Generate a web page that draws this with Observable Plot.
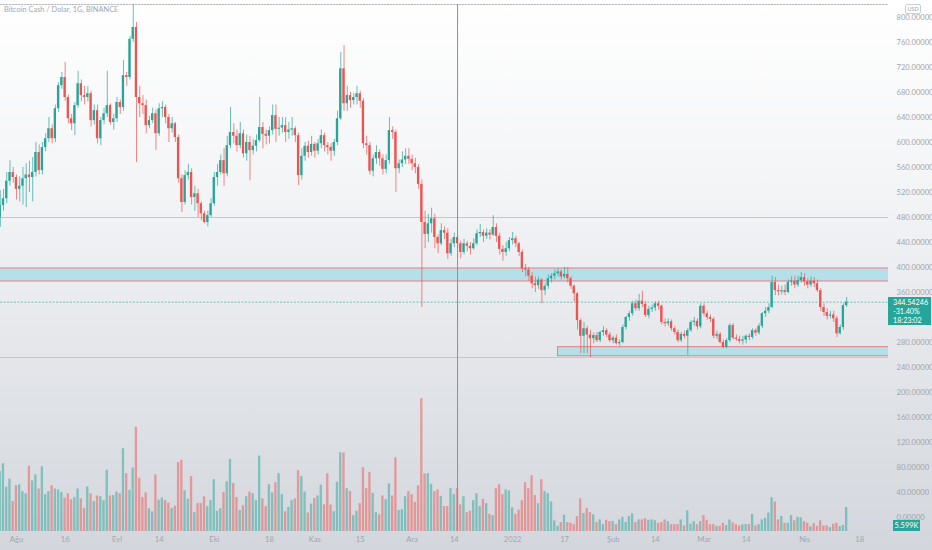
<!DOCTYPE html>
<html><head><meta charset="utf-8">
<script src="https://cdn.jsdelivr.net/npm/d3@7"></script>
<script src="https://cdn.jsdelivr.net/npm/@observablehq/plot@0.6"></script>
<style>
html,body{margin:0;padding:0;}
body{width:932px;height:550px;overflow:hidden;background:linear-gradient(#ffffff 0%,#f3f4f6 35%,#dcdfe4 80%,#d3d6dc 100%);font-family:Lato,"Noto Sans",sans-serif;}
#wrap{position:relative;width:932px;height:550px;}
#wrap svg{position:absolute;left:0;top:0;}
.ov{position:absolute;}
</style></head>
<body><div id="wrap"></div>
<script>
// ---- data (Bitcoin Cash / Dolar, daily, from 2021-07-27) ----
const firstDay = "2021-07-27";
const open = [480,499,510,538,552,544,525,530,542,548,
544,552,584,555,592,606,622,606,654,691,
704,672,638,630,659,694,675,672,678,635,
651,606,635,646,659,632,638,664,656,707,
704,765,784,672,662,659,627,635,646,614,
654,656,640,622,630,608,542,504,547,552,
512,518,502,486,472,483,502,544,552,571,
550,595,616,610,595,614,582,600,587,594,
603,624,613,610,619,643,621,623,627,616,
620,622,611,547,578,594,584,597,586,598,
611,595,592,586,600,638,718,662,675,667,
672,678,666,598,595,554,574,584,574,557,
571,619,616,558,566,572,578,573,566,560,
533,472,453,470,478,448,438,459,455,422,
438,448,438,424,438,434,430,438,454,456,
450,455,452,464,450,429,424,430,443,446,
438,424,398,396,386,374,371,380,363,370,
382,386,390,393,385,389,382,370,358,315,
290,302,292,286,291,283,296,299,292,283,
287,278,280,304,320,326,342,334,346,341,
323,333,335,342,338,312,310,313,302,296,
283,293,290,299,312,314,305,338,326,320,
317,290,293,280,272,283,307,287,285,282,
284,290,288,299,295,306,326,330,336,376,
363,361,363,360,376,378,372,379,384,377,
372,378,374,363,336,328,322,324,318,294,
304,339];
const high = [523,525,552,571,560,548,545,560,566,570,
576,600,596,600,614,640,628,660,696,712,
728,676,645,664,714,700,690,690,682,660,
660,640,655,714,662,645,672,668,731,712,
770,840,792,690,675,668,642,655,652,662,
665,660,645,640,632,612,548,555,565,558,
530,525,505,490,490,510,552,565,580,590,
610,656,630,620,632,620,612,610,605,612,
672,632,620,625,660,660,640,640,640,632,
640,625,615,590,600,602,610,600,605,620,
615,600,598,605,650,744,755,690,680,678,
690,682,670,610,600,580,595,588,580,580,
640,625,620,572,585,590,590,580,575,565,
540,490,485,495,485,452,470,465,462,445,
455,452,442,445,442,440,446,460,469,460,
462,460,483,470,455,435,440,448,456,450,
440,428,405,400,392,385,385,382,375,388,
390,396,398,396,400,400,385,372,360,318,
312,306,300,295,296,298,305,302,296,290,
292,284,308,322,330,346,348,357,362,345,
338,340,345,346,340,318,318,316,306,300,
296,298,302,315,320,318,342,342,330,324,
320,298,296,284,286,310,310,292,290,290,
292,294,302,302,310,328,336,342,386,384,
372,370,372,380,385,386,386,392,390,382,
385,384,380,366,342,334,330,330,322,308,
342,352];
const low = [464,490,502,530,535,508,505,500,496,520,
505,545,548,548,585,600,598,600,648,685,
666,630,619,611,655,665,660,665,625,628,
598,595,628,640,628,620,632,645,650,690,
700,760,568,640,645,614,622,630,587,610,
640,630,600,615,600,535,488,500,540,500,
490,480,475,470,465,480,498,530,548,530,
545,590,598,585,590,575,570,539,580,585,
600,590,596,598,612,600,610,615,600,605,
610,600,531,540,570,575,578,575,580,590,
585,580,570,578,595,635,650,650,655,660,
660,655,590,580,548,545,565,562,548,550,
565,605,520,550,560,565,565,555,550,525,
336,430,440,455,430,422,435,445,413,418,
432,430,414,420,425,420,428,435,448,440,
445,444,450,440,420,410,418,425,436,432,
418,392,385,378,366,360,365,342,355,365,
375,380,385,380,382,375,365,345,300,262,
262,262,256,278,280,280,290,288,280,278,
276,274,278,300,314,322,330,330,336,320,
318,328,330,332,308,305,306,298,292,280,
280,286,259,296,306,300,302,322,316,312,
286,285,278,270,270,280,284,282,278,276,
278,283,285,290,292,302,320,326,334,355,
355,356,355,358,370,366,368,375,370,366,
368,368,360,330,322,316,318,312,288,292,
300,336];
const close = [499,510,538,552,544,525,530,542,548,544,
552,584,555,592,606,622,606,654,691,704,
672,638,630,659,694,675,672,678,635,651,
606,635,646,659,632,638,664,656,707,704,
765,784,672,662,659,627,635,646,614,654,
656,640,622,630,608,542,504,547,552,512,
518,502,486,472,483,502,544,552,571,550,
595,616,610,595,614,582,600,587,594,603,
624,613,610,619,643,621,623,627,616,620,
622,611,547,578,594,584,597,586,598,611,
595,592,586,600,638,718,662,675,667,672,
678,666,598,595,554,574,584,574,557,571,
619,616,558,566,572,578,573,566,560,533,
472,453,470,478,448,438,459,455,422,438,
448,438,424,438,434,430,438,454,456,450,
455,452,464,450,429,424,430,443,446,438,
424,398,396,386,374,371,380,363,370,382,
386,390,393,385,389,382,370,358,315,290,
302,292,286,291,283,296,299,292,283,287,
278,280,304,320,326,342,334,346,341,323,
333,335,342,338,312,310,313,302,296,283,
293,290,299,312,314,305,338,326,320,317,
290,293,280,272,283,307,287,285,282,284,
290,288,299,295,306,326,330,336,376,363,
361,363,360,376,378,372,379,384,377,372,
378,374,363,336,328,322,324,318,294,304,
339,344.54246];
// volume in thousands
const volume = [14.0,15.8,10.3,12.2,7.0,10.7,10.9,9.3,8.8,15.2,
11.8,13.2,9.9,15.1,8.6,9.3,10.7,9.9,9.7,9.1,
7.8,8.8,7.4,7.9,9.9,7.6,5.4,10.4,8.8,7.0,
8.3,8.1,7.2,14.3,8.3,8.4,9.2,8.8,19.3,13.5,
9.6,14.8,24.3,12.4,7.9,9.0,5.3,4.6,13.2,7.3,
7.8,7.2,6.6,5.4,5.9,16.1,16.6,9.5,7.5,12.8,
4.4,6.5,6.5,8.1,5.8,7.2,12.1,4.7,5.3,9.1,
11.6,16.8,11.2,7.9,4.9,6.0,8.1,9.2,8.8,7.2,
17.6,7.6,5.8,10.9,9.0,11.4,13.5,8.6,4.6,5.6,
7.2,7.6,14.2,12.8,9.2,4.3,6.4,7.7,8.3,10.8,
6.2,13.5,6.2,4.6,11.5,18.4,18.3,10.0,9.3,3.7,
4.7,6.5,14.9,10.0,13.8,8.9,4.4,3.9,8.3,7.4,
11.1,8.3,17.2,4.9,5.1,8.1,9.3,8.6,6.8,10.7,
31.0,13.4,13.5,11.0,9.3,9.7,8.2,5.8,5.8,10.0,
8.6,10.0,6.2,8.1,4.4,4.7,7.2,8.8,5.8,7.5,
6.5,4.0,3.7,10.0,10.9,8.6,9.7,9.5,5.5,4.0,
5.0,7.2,11.4,10.0,13.0,8.4,6.5,12.1,9.3,8.8,
6.9,2.5,1.2,2.1,3.8,2.1,1.9,1.6,3.5,7.6,
4.2,5.4,4.4,3.9,2.1,2.7,1.6,2.6,2.3,2.3,
1.6,2.7,3.3,2.1,3.5,4.1,2.1,2.7,2.7,3.0,
2.6,2.7,2.5,1.9,2.1,2.7,2.3,1.6,1.6,1.6,
2.7,1.3,4.8,1.7,2.3,1.6,2.3,3.7,2.6,1.6,
1.6,1.2,1.2,1.9,1.4,2.7,2.0,1.6,1.3,1.6,
1.6,1.6,4.0,1.3,1.6,2.7,3.1,4.3,7.9,6.9,
2.7,3.5,1.9,1.9,3.7,2.5,3.3,3.2,2.3,1.9,
1.1,1.8,1.2,2.5,1.3,1.3,0.9,1.7,1.9,1.1,
1.4,5.599];
// 320 is hidden behind the last-price label in the reference
const priceTicks = [0,40,80,120,160,200,240,280,360,400,440,480,520,560,600,640,680,720,760,800];
const timeTickDates = ["2021-08-01","2021-08-16","2021-09-01","2021-09-14","2021-10-01","2021-10-18","2021-11-01","2021-11-15","2021-12-01","2021-12-14","2022-01-01","2022-01-17","2022-02-01","2022-02-14","2022-03-01","2022-03-14","2022-04-01","2022-04-18"];
const timeTickLabels = ["Ağu","16","Eyl","14","Eki","18","Kas","15","Ara","14","2022","17","Şub","14","Mar","14","Nis","18"];
const levelLines = [480, 256];
const zones = [
  {start:"2021-06-01", end:"2022-06-30", lo:377.6, hi:398.4},
  {start:"2022-01-15", end:"2022-06-30", lo:258, hi:272.5}
];
const crosshairDate = "2021-12-15";
const lastPrice = 344.54246;
const lastChange = "-31.40%";
const countdown = "18:23:02";
const lastVolumeLabel = "5.599K";
const title = "Bitcoin Cash / Dolar, 1G, BINANCE";

// ---- build ----
const UP = "#26a69a", DOWN = "#ef5350";
const parse = d3.utcParse("%Y-%m-%d");
const start = parse(firstDay);
const candles = close.map((c, i) => {
  const o = open[i];
  const lo = Math.min(o, c), hi = Math.max(o, c);
  const date = d3.utcDay.offset(start, i);
  return {date, x1: d3.utcHour.offset(date, -8.6), x2: d3.utcHour.offset(date, 8.6),
    open: o, high: high[i], low: low[i], close: c, volume: volume[i],
    bLo: lo, bHi: Math.max(hi, lo + 1.4), up: c >= o};
});
const W = 932, H = 550, mL = 0, mR = 44, mT = 4, mB = 19;
const pxPerDay = 3.243;
const aug1 = parse("2021-08-01");
const xDomain = [d3.utcMinute.offset(aug1, -Math.round(16 / pxPerDay * 1440)),
                 d3.utcMinute.offset(aug1, Math.round((888 - 16) / pxPerDay * 1440))];
const pxPerUnit = 0.625; // price units -> px
const yDomain = [-(H - mB - 517) / pxPerUnit, (517 - mT) / pxPerUnit];
const tickMap = new Map(timeTickDates.map((d, i) => [+parse(d), timeTickLabels[i]]));
const baseStyle = {background: "transparent", fontFamily: "Lato, 'Noto Sans', sans-serif", fontSize: "7.6px", color: "#9ea2aa", overflow: "visible"};

const volPxPerK = 24 / 5.599;
const volChart = Plot.plot({
  width: W, height: H, marginLeft: mL, marginRight: mR, marginTop: mT, marginBottom: mB,
  style: baseStyle,
  x: {type: "utc", domain: xDomain, axis: null},
  y: {domain: [0, (H - mB - mT) / volPxPerK], axis: null},
  color: {type: "identity"},
  marks: [
    Plot.rect(candles, {x1: "x1", x2: "x2", y1: 0, y2: "volume", fill: d => d.up ? UP : DOWN, fillOpacity: 0.5, clip: true})
  ]
});

const zoneData = zones.map(z => ({...z, s: parse(z.start), e: parse(z.end)}));
const priceChart = Plot.plot({
  width: W, height: H, marginLeft: mL, marginRight: mR, marginTop: mT, marginBottom: mB,
  style: baseStyle,
  x: {type: "utc", domain: xDomain},
  y: {domain: yDomain},
  color: {type: "identity"},
  marks: [
    Plot.frame({anchor: "top", stroke: "#b9bcc3", strokeDasharray: "1.5,1.5"}),
    Plot.rect(zoneData, {x1: "s", x2: "e", y1: "lo", y2: "hi", fill: "#b4e1e9", stroke: "#f07a7e", strokeWidth: 1, clip: true}),
    Plot.ruleY(levelLines, {stroke: "#c4c7cd", strokeWidth: 1}),
    Plot.ruleY([lastPrice], {stroke: "#6cc4ba", strokeDasharray: "2,1.5", strokeWidth: 1}),
    Plot.ruleX([parse(crosshairDate)], {stroke: "#879496", strokeWidth: 1}),
    Plot.ruleX(candles, {x: "date", y1: "low", y2: "high", stroke: d => d.up ? UP : DOWN, strokeWidth: 1, strokeOpacity: 0.7, clip: true}),
    Plot.rect(candles, {x1: "x1", x2: "x2", y1: "bLo", y2: "bHi", fill: d => d.up ? UP : DOWN, clip: true}),
    Plot.axisY({anchor: "right", ticks: priceTicks, tickFormat: d => d.toFixed(5), tickSize: 0, tickPadding: 8, textAnchor: "start", fill: "#a2a6ad"}),
    Plot.axisX({anchor: "bottom", ticks: timeTickDates.map(parse), tickFormat: d => tickMap.get(+d), tickSize: 0, tickPadding: 5, fill: "#a2a6ad"})
  ]
});

const wrap = document.getElementById("wrap");
wrap.appendChild(volChart);
wrap.appendChild(priceChart);

const ys = priceChart.scale("y");
const yLast = ys.apply(lastPrice);

function div(html, css) {
  const d = document.createElement("div");
  d.className = "ov";
  d.innerHTML = html;
  Object.assign(d.style, css);
  wrap.appendChild(d);
  return d;
}
div(title, {left: "4px", top: "5px", fontSize: "7.4px", color: "#a4a7ae", whiteSpace: "nowrap"});
div("USD", {left: "905px", top: "4px", fontSize: "5.5px", color: "#9ea2aa", border: "1px solid #c9ccd2", borderRadius: "2px", padding: "0 1.5px", lineHeight: "8px"});
div(`${lastPrice.toFixed(5)}<br>${lastChange}<br>${countdown}`,
  {left: (W - mR) + "px", top: (yLast - 4.5) + "px", width: "43px", height: "28px", background: UP, color: "#fff",
   fontSize: "7.2px", lineHeight: "9px", boxSizing: "border-box", padding: "0.5px 0 0 5px", whiteSpace: "nowrap", overflow: "hidden"});
div(lastVolumeLabel, {left: "893px", top: "520px", width: "27px", height: "11px", background: UP, color: "#fff",
   fontSize: "7.4px", lineHeight: "11px", textAlign: "center"});
</script>
</body></html>
